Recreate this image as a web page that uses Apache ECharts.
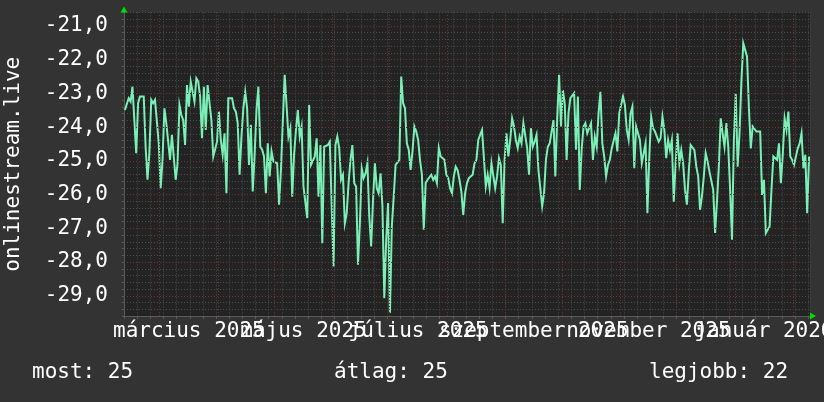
<!DOCTYPE html>
<html>
<head>
<meta charset="utf-8">
<script src="https://cdn.jsdelivr.net/npm/echarts@6/dist/echarts.min.js"></script>
<style>
html,body{margin:0;padding:0;background:#333333;}
#c{width:824px;height:402px;}
</style>
</head>
<body>
<div id="c"></div>
<script>
// ---- data ----
const startDate = '2025-02-10';
const endDate = '2026-02-10';
// daily values starting at startDate
const values = [
-23.49,-23.49,-23.14,-23.24,-22.80,-22.80,-24.77,-23.29,-23.09,-23.09,
-23.09,-24.58,-25.56,-24.77,-23.19,-23.29,-23.19,-23.19,-24.48,-25.81,
-24.97,-23.44,-23.88,-23.88,-24.97,-24.23,-24.28,-25.56,-25.07,-23.34,
-23.64,-23.79,-24.53,-22.75,-23.39,-22.65,-22.60,-23.24,-22.55,-22.65,
-23.09,-24.33,-22.80,-24.08,-22.75,-23.29,-23.79,-24.87,-24.82,-24.43,
-23.54,-24.38,-24.82,-24.18,-25.96,-23.14,-23.14,-23.14,-23.44,-23.54,
-23.88,-25.41,-24.28,-23.44,-22.95,-23.44,-25.12,-23.93,-25.91,-24.82,
-23.49,-22.80,-24.58,-24.67,-24.87,-25.96,-24.48,-25.46,-24.72,-25.02,
-25.02,-25.07,-26.30,-25.27,-23.83,-22.45,-22.40,-24.28,-24.03,-26.06,
-24.82,-24.08,-23.49,-24.28,-23.98,-25.76,-25.81,-26.70,-23.34,-25.12,
-25.12,-24.87,-24.33,-26.06,-24.53,-27.44,-24.58,-24.62,-24.53,-24.43,
-26.35,-28.13,-24.53,-24.28,-24.62,-25.56,-25.41,-26.85,-26.55,-25.66,
-24.97,-24.53,-25.66,-25.76,-28.08,-26.85,-25.22,-25.51,-25.37,-25.07,
-26.65,-27.54,-26.16,-25.07,-25.81,-25.96,-25.37,-26.35,-29.07,-27.34,
-26.25,-29.51,-26.95,-26.06,-25.12,-25.07,-24.97,-22.50,-23.29,-23.44,
-24.48,-24.67,-25.27,-24.72,-23.98,-24.13,-24.38,-24.97,-25.41,-27.04,
-25.66,-25.56,-25.61,-25.41,-25.56,-25.46,-25.66,-24.62,-24.87,-24.82,
-24.97,-25.41,-25.51,-25.81,-25.96,-25.46,-25.17,-25.27,-25.56,-25.91,
-26.60,-25.96,-25.66,-25.51,-25.46,-25.41,-25.07,-24.97,-24.38,-24.23,
-24.08,-24.08,-25.76,-25.41,-25.81,-25.07,-25.12,-25.81,-25.46,-24.92,
-25.12,-26.85,-24.97,-24.18,-24.87,-24.38,-23.74,-23.98,-24.38,-24.62,
-24.28,-24.48,-23.88,-23.83,-24.62,-25.41,-24.03,-24.58,-24.43,-24.23,
-25.27,-25.27,-26.35,-25.96,-24.97,-24.58,-24.48,-24.53,-23.79,-25.46,
-23.74,-22.45,-23.98,-22.90,-23.29,-24.97,-23.59,-23.14,-23.19,-22.99,
-24.67,-23.09,-25.86,-24.67,-23.98,-23.88,-24.18,-24.13,-23.88,-24.97,
-24.28,-24.58,-23.59,-22.95,-24.48,-24.87,-25.46,-25.12,-24.97,-24.63,
-24.58,-24.18,-24.72,-23.59,-23.59,-23.09,-23.34,-24.08,-24.38,-23.59,
-23.39,-25.22,-23.98,-23.98,-24.38,-25.07,-25.07,-24.48,-26.55,-24.87,
-23.69,-24.03,-24.13,-24.18,-24.43,-24.33,-23.69,-24.08,-24.92,-24.38,
-24.68,-24.38,-26.21,-25.07,-24.18,-25.07,-24.68,-25.07,-25.86,-26.30,
-25.32,-24.53,-24.48,-24.68,-25.17,-25.46,-26.45,-26.06,-25.46,-24.77,
-25.02,-25.32,-25.37,-25.86,-27.14,-26.21,-25.17,-23.74,-24.18,-24.58,
-23.88,-24.58,-25.86,-27.34,-24.38,-22.99,-25.17,-24.18,-22.65,-21.51,
-21.56,-21.91,-23.44,-24.63,-23.98,-24.03,-24.13,-24.08,-24.13,-26.01,
-25.56,-27.14,-27.04,-26.95,-25.86,-24.87,-24.82,-24.97,-24.48,-25.66,
-24.82,-23.74,-24.08,-23.54,-24.87,-24.97,-25.12,-25.07,-24.63,-24.48,
-24.18,-25.22,-24.82,-26.55,-24.87
];
const monthStarts = ['2025-03-01','2025-04-01','2025-05-01','2025-06-01','2025-07-01','2025-08-01',
                     '2025-09-01','2025-10-01','2025-11-01','2025-12-01','2026-01-01','2026-02-01'];
const labelMonths = ['2025-03-01','2025-05-01','2025-07-01','2025-09-01','2025-11-01','2026-01-01'];
const labelNext   = ['2025-04-01','2025-06-01','2025-08-01','2025-10-01','2025-12-01','2026-02-01'];
const monthLabels = ['március 2025','május 2025','július 2025','szeptember 2025','november 2025','január 2026'];
const yMajor = [-29,-28,-27,-26,-25,-24,-23,-22,-21];
const yTitle = 'onlinestream.live';
const summary = ['most: 25','átlag: 25','legjobb: 22'];

// ---- build ----
const DAY = 86400000;
const t0 = Date.parse(startDate);
const dayOf = d => (Date.parse(d) - t0) / DAY;
const xMax = dayOf(endDate);
const monthX = monthStarts.map(dayOf);
const labelX = labelMonths.map((m, i) => (dayOf(m) + dayOf(labelNext[i])) / 2);
const seriesData = values.map((v, i) => [i + 0.5, v]);

const FONT = '"DejaVu Sans Mono", monospace';
const TXT = '#ffffff';
const MINOR = '#4d4d4d';
const MAJOR = '#6e3232';

function labelAxis(vals) {
  return {
    type: 'value', min: 0, max: xMax, position: 'bottom',
    axisLine: {show: false, onZero: false},
    axisTick: {show: false},
    splitLine: {show: false},
    axisLabel: {
      show: true, customValues: vals, margin: 5, hideOverlap: false,
      showMinLabel: true, showMaxLabel: true,
      color: TXT, fontFamily: FONT, fontSize: 21,
      formatter: function (v) {
        let best = 0;
        labelX.forEach((x, i) => { if (Math.abs(x - v) < Math.abs(labelX[best] - v)) best = i; });
        return monthLabels[best];
      }
    }
  };
}

const chart = echarts.init(document.getElementById('c'), null, {renderer: 'canvas'});
chart.setOption({
  backgroundColor: '#333333',
  animation: false,
  grid: {left: 124, right: 14, top: 12.5, height: 303.5, backgroundColor: '#232323', show: true, borderWidth: 0,
         containLabel: false, outerBoundsMode: 'none'},
  xAxis: [
    {
      type: 'value', min: 0, max: xMax, interval: 7, position: 'bottom',
      axisLine: {show: true, onZero: false, lineStyle: {color: '#5a5a5a'}},
      axisTick: {show: true, length: 3, lineStyle: {color: '#5a5a5a'}},
      axisLabel: {show: false},
      splitLine: {show: true, lineStyle: {color: MINOR, type: [1, 2], width: 1}}
    },
    labelAxis(labelX.filter((x, i) => i % 2 === 0)),
    labelAxis(labelX.filter((x, i) => i % 2 === 1)),
    {
      type: 'value', min: 0, max: xMax, position: 'bottom',
      axisLine: {show: true, onZero: false, symbol: ['none', 'triangle'], symbolSize: [7, 6], symbolOffset: [0, 3],
                 lineStyle: {color: '#00dd00', width: 0}},
      axisTick: {show: false}, axisLabel: {show: false}, splitLine: {show: false}
    }
  ],
  yAxis: [
    {
      type: 'value', min: -29.6, max: -20.6, interval: 0.2, position: 'left',
      name: yTitle, nameLocation: 'middle', nameRotate: 90, nameGap: 100,
      nameTextStyle: {color: TXT, fontFamily: FONT, fontSize: 21},
      axisLine: {show: true, onZero: false, lineStyle: {color: '#5a5a5a'}},
      axisTick: {show: true, length: 2, lineStyle: {color: '#5a5a5a'}},
      splitLine: {show: true, lineStyle: {color: MINOR, type: [1, 2], width: 1}},
      axisLabel: {
        color: TXT, fontFamily: FONT, fontSize: 21, margin: 16,
        formatter: function (v) {
          const r = Math.round(v);
          return Math.abs(v - r) < 1e-6 ? r.toFixed(1).replace('.', ',') : '';
        }
      }
    },
    {
      type: 'value', min: -29.6, max: -20.6, position: 'left',
      axisLine: {show: true, onZero: false, symbol: ['none', 'triangle'], symbolSize: [7, 6], symbolOffset: [0, 3],
                 lineStyle: {color: '#00dd00', width: 0}},
      axisTick: {show: false}, axisLabel: {show: false}, splitLine: {show: false}
    }
  ],
  series: [
    {
      type: 'line', data: [], xAxisIndex: 0, yAxisIndex: 0, z: 1, silent: true,
      markLine: {
        silent: true, symbol: 'none', animation: false,
        label: {show: false},
        lineStyle: {color: MAJOR, type: [1, 2], width: 1},
        emphasis: {disabled: true},
        data: yMajor.map(v => ({yAxis: v})).concat(monthX.map(v => ({xAxis: v})))
      }
    },
    {
      type: 'line', data: seriesData, xAxisIndex: 0, yAxisIndex: 0, z: 3,
      showSymbol: false, symbol: 'none', silent: true,
      lineStyle: {color: '#7af0b6', width: 2, join: 'miter'}
    }
  ],
  graphic: [
    {type: 'text', left: 32, top: 362, style: {text: summary[0], fill: TXT, font: '21px ' + FONT}},
    {type: 'text', left: 334, top: 362, style: {text: summary[1], fill: TXT, font: '21px ' + FONT}},
    {type: 'text', left: 649, top: 362, style: {text: summary[2], fill: TXT, font: '21px ' + FONT}}
  ]
});
</script>
</body>
</html>
